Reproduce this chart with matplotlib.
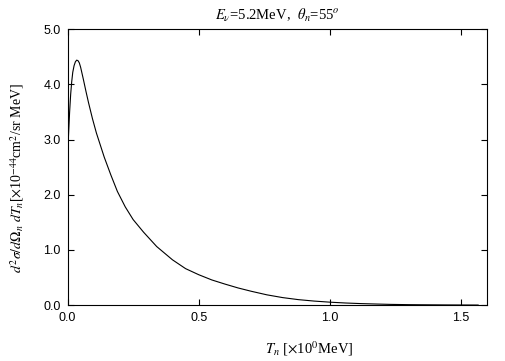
"""
微分断面積 d2σ/dΩ dT と中性子運動エネルギー T_n の関係
"""

import numpy as np
import matplotlib
matplotlib.use('Agg')
from matplotlib import pyplot as plt

# 図から読み取った値
t_n = [0.0, 0.0005, 0.002, 0.005, 0.008, 0.012, 0.016, 0.02, 0.025, 0.03,
       0.035, 0.04, 0.045, 0.05, 0.06, 0.07, 0.08, 0.095, 0.11, 0.125,
       0.14, 0.165, 0.19, 0.22, 0.25, 0.29, 0.34, 0.4, 0.45, 0.5,
       0.55, 0.6, 0.65, 0.7, 0.76, 0.82, 0.88, 0.94, 1.0, 1.06,
       1.12, 1.18, 1.23, 1.3, 1.35, 1.45, 1.565]
dsigma = [0.0, 2.0, 2.9, 3.2, 3.5, 3.82, 4.05, 4.22, 4.34, 4.41,
          4.44, 4.43, 4.39, 4.31, 4.1, 3.88, 3.67, 3.38, 3.12, 2.9,
          2.68, 2.36, 2.06, 1.78, 1.55, 1.32, 1.06, 0.82, 0.66, 0.55,
          0.455, 0.38, 0.31, 0.25, 0.185, 0.135, 0.098, 0.072, 0.052, 0.037,
          0.026, 0.018, 0.012, 0.007, 0.005, 0.002, 0.0]
x_ticks = [0.0, 0.5, 1.0, 1.5]
y_ticks = [0.0, 1.0, 2.0, 3.0, 4.0, 5.0]

plt.rcParams['mathtext.fontset'] = 'stix'
serif = ['Liberation Serif', 'DejaVu Serif']

fig = plt.figure(figsize=(5.05, 3.61), dpi=100)
ax = fig.add_axes([0.1337, 0.155, 0.965 - 0.1337, 0.919 - 0.155])

ax.plot(t_n, dsigma, color='black', lw=0.8)

ax.set_xlim(0, 1.6)
ax.set_ylim(0, 5.0)
ax.set_xticks(x_ticks)
ax.set_yticks(y_ticks)
ax.set_xticklabels(['%.1f' % v for v in x_ticks], family='Liberation Sans', fontsize=9)
ax.set_yticklabels(['%.1f' % v for v in y_ticks], family='Liberation Sans', fontsize=9)
ax.tick_params(direction='in', length=4.5, width=0.8, top=True, right=True, pad=5)
for s in ax.spines.values():
    s.set_linewidth(0.8)

ax.set_title(r'$E_\nu$=5.2MeV,  $\theta_n$=55$^o$', family=serif, fontsize=10.5, pad=7)
ax.set_xlabel(r'$T_n$ [$\times$10$^0$MeV]', family=serif, fontsize=10.5)
ax.xaxis.set_label_coords(0.575, -0.125)
ax.set_ylabel(r'$d^2\sigma/d\Omega_n\ dT_n$[$\times$10$^{-44}$cm$^2$/sr MeV]',
              family=serif, fontsize=10)
ax.yaxis.set_label_coords(-0.1, 0.46)

fig.savefig('out.png', dpi=100)
